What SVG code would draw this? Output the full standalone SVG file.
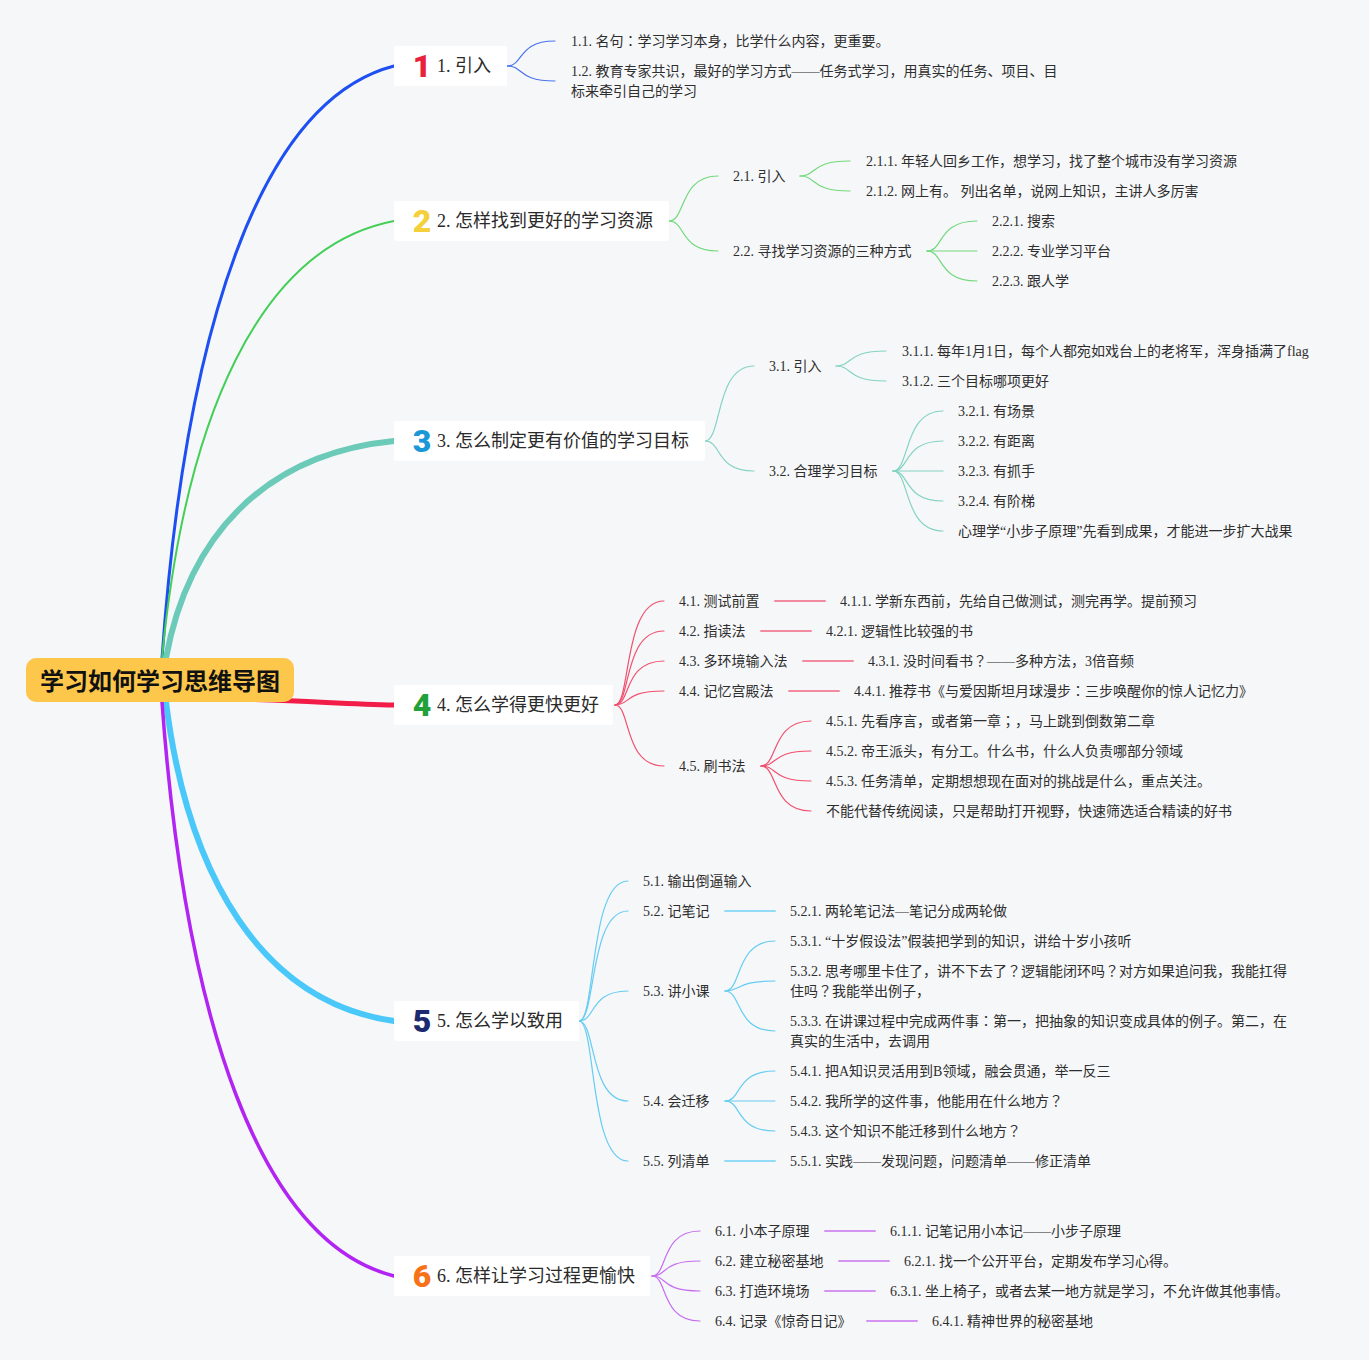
<svg xmlns="http://www.w3.org/2000/svg" width="1369" height="1360" viewBox="0 0 1369 1360">
<style>
.bg{fill:#f6f7f9}
.t{font-family:"Liberation Serif","Noto Sans CJK SC",serif;font-size:14px;fill:#2e2e2e}
.p{font-family:"Noto Sans CJK JP",sans-serif}
.m{font-family:"Liberation Serif","Noto Sans CJK SC",serif;font-size:18px;fill:#2a2a2a}
.root{font-family:"Noto Sans CJK SC",sans-serif;font-size:24px;font-weight:bold;fill:#111}
.num{font-family:"Roboto","Noto Sans",sans-serif;font-size:32px;font-weight:900;text-anchor:middle}
.box{fill:#ffffff}
.c{fill:none;stroke-linecap:round}
.b1{stroke:#4a72ee;stroke-width:1.2}
.b2{stroke:#72d97c;stroke-width:1.2}
.b3{stroke:#84d3c3;stroke-width:1.2}
.b4{stroke:#f0506f;stroke-width:1.2}
.b5{stroke:#66ccf2;stroke-width:1.2}
.b6{stroke:#c66ef0;stroke-width:1.2}
.h4{stroke:#f28ba0;stroke-width:2}
.h5{stroke:#92daf5;stroke-width:2}
.h6{stroke:#d694f2;stroke-width:2}
</style>
<rect class="bg" x="0" y="0" width="1369" height="1360"/>
<g id="connectors">
  <path class="c" stroke="#1d4ff2" stroke-width="3" d="M162,658 C185,332 259,101 394,66"/>
  <path class="c" stroke="#43cf57" stroke-width="2" d="M162,658 C185,418 259,247 394,221"/>
  <path class="c" stroke="#6ccab9" stroke-width="6" d="M166,658 C188,539 262,454 394,441"/>
  <path class="c" stroke="#f21c48" stroke-width="5" d="M200,698 C300,700 340,704 394,705"/>
  <path class="c" stroke="#4bc8fa" stroke-width="6" d="M166,702 C188,877 262,1002 394,1021"/>
  <path class="c" stroke="#b224f2" stroke-width="3.5" d="M162,702 C185,1018 259,1242 394,1276"/>
  <path class="c b1" d="M507,66 C524,66 517,41 555,41"/>
  <path class="c b1" d="M507,66 C524,66 517,81 555,81"/>
  <path class="c b2" d="M669,221 C686,221 679,176 718,176"/>
  <path class="c b2" d="M669,221 C686,221 679,251 718,251"/>
  <path class="c b2" d="M800,176 C817,176 810,161 850,161"/>
  <path class="c b2" d="M800,176 C817,176 810,191 850,191"/>
  <path class="c b2" d="M927,251 C944,251 937,221 977,221"/>
  <path class="c b2" d="M927,251 C944,251 937,251 977,251"/>
  <path class="c b2" d="M927,251 C944,251 937,281 977,281"/>
  <path class="c b3" d="M705,441 C722,441 715,366 754,366"/>
  <path class="c b3" d="M705,441 C722,441 715,471 754,471"/>
  <path class="c b3" d="M836,366 C853,366 846,351 886,351"/>
  <path class="c b3" d="M836,366 C853,366 846,381 886,381"/>
  <path class="c b3" d="M893,471 C910,471 903,411 943,411"/>
  <path class="c b3" d="M893,471 C910,471 903,441 943,441"/>
  <path class="c b3" d="M893,471 C910,471 903,471 943,471"/>
  <path class="c b3" d="M893,471 C910,471 903,501 943,501"/>
  <path class="c b3" d="M893,471 C910,471 903,531 943,531"/>
  <path class="c b4" d="M615,705 C631,705 623,601 664,601"/>
  <path class="c b4" d="M615,705 C631,705 623,631 664,631"/>
  <path class="c b4" d="M615,705 C631,705 623,661 664,661"/>
  <path class="c b4" d="M615,705 C631,705 623,691 664,691"/>
  <path class="c b4" d="M615,705 C631,705 623,766 664,766"/>
  <path class="c b4" d="M761,766 C778,766 771,721 811,721"/>
  <path class="c b4" d="M761,766 C778,766 771,751 811,751"/>
  <path class="c b4" d="M761,766 C778,766 771,781 811,781"/>
  <path class="c b4" d="M761,766 C778,766 771,811 811,811"/>
  <path class="c h4" d="M775,601 L825,601"/>
  <path class="c h4" d="M761,631 L811,631"/>
  <path class="c h4" d="M803,661 L853,661"/>
  <path class="c h4" d="M789,691 L839,691"/>
  <path class="c b5" d="M579,1021 C596,1021 589,881 628,881"/>
  <path class="c b5" d="M579,1021 C596,1021 589,911 628,911"/>
  <path class="c b5" d="M579,1021 C596,1021 589,991 628,991"/>
  <path class="c b5" d="M579,1021 C596,1021 589,1101 628,1101"/>
  <path class="c b5" d="M579,1021 C596,1021 589,1161 628,1161"/>
  <path class="c b5" d="M725,991 C742,991 735,941 775,941"/>
  <path class="c b5" d="M725,991 C742,991 735,981 775,981"/>
  <path class="c b5" d="M725,991 C742,991 735,1031 775,1031"/>
  <path class="c b5" d="M725,1101 C742,1101 735,1071 775,1071"/>
  <path class="c b5" d="M725,1101 C742,1101 735,1101 775,1101"/>
  <path class="c b5" d="M725,1101 C742,1101 735,1131 775,1131"/>
  <path class="c h5" d="M725,911 L775,911"/>
  <path class="c h5" d="M725,1161 L775,1161"/>
  <path class="c b6" d="M652,1276 C668,1276 660,1231 700,1231"/>
  <path class="c b6" d="M652,1276 C668,1276 660,1261 700,1261"/>
  <path class="c b6" d="M652,1276 C668,1276 660,1291 700,1291"/>
  <path class="c b6" d="M652,1276 C668,1276 660,1321 700,1321"/>
  <path class="c h6" d="M825,1231 L875,1231"/>
  <path class="c h6" d="M839,1261 L889,1261"/>
  <path class="c h6" d="M825,1291 L875,1291"/>
  <path class="c h6" d="M867,1321 L917,1321"/>
</g>
<g id="root">
  <rect x="26" y="658" width="268" height="44" rx="10" fill="#fdc74b"/>
  <text class="root" x="160" y="690" text-anchor="middle">学习如何学习思维导图</text>
</g>
<g id="n1">
  <rect class="box" x="394" y="46" width="113" height="40" rx="2"/>
  <text class="num" x="422" y="77" fill="#e8213c">1</text>
  <text class="m" x="437" y="72">1. 引入</text>
</g>
<g id="n1-1"><text class="t" x="571" y="46">1.1. 名句<tspan class="p">：</tspan>学习学习本身，比学什么内容，更重要。</text></g>
<g id="n1-2"><text class="t" x="571" y="76">1.2. 教育专家共识，最好的学习方式——任务式学习，用真实的任务、项目、目</text><text class="t" x="571" y="96">标来牵引自己的学习</text></g>
<g id="n2">
  <rect class="box" x="394" y="201" width="275" height="40" rx="2"/>
  <text class="num" x="422" y="232" fill="#f4d03c">2</text>
  <text class="m" x="437" y="227">2. 怎样找到更好的学习资源</text>
</g>
<g id="n2-1"><text class="t" x="733" y="181">2.1. 引入</text></g>
<g id="n2-1-1"><text class="t" x="866" y="166">2.1.1. 年轻人回乡工作，想学习，找了整个城市没有学习资源</text></g>
<g id="n2-1-2"><text class="t" x="866" y="196">2.1.2. 网上有。 列出名单，说网上知识，主讲人多厉害</text></g>
<g id="n2-2"><text class="t" x="733" y="256">2.2. 寻找学习资源的三种方式</text></g>
<g id="n2-2-1"><text class="t" x="992" y="226">2.2.1. 搜索</text></g>
<g id="n2-2-2"><text class="t" x="992" y="256">2.2.2. 专业学习平台</text></g>
<g id="n2-2-3"><text class="t" x="992" y="286">2.2.3. 跟人学</text></g>
<g id="n3">
  <rect class="box" x="394" y="421" width="311" height="40" rx="2"/>
  <text class="num" x="422" y="452" fill="#1b98d8">3</text>
  <text class="m" x="437" y="447">3. 怎么制定更有价值的学习目标</text>
</g>
<g id="n3-1"><text class="t" x="769" y="371">3.1. 引入</text></g>
<g id="n3-1-1"><text class="t" x="902" y="356">3.1.1. 每年1月1日，每个人都宛如戏台上的老将军，浑身插满了flag</text></g>
<g id="n3-1-2"><text class="t" x="902" y="386">3.1.2. 三个目标哪项更好</text></g>
<g id="n3-2"><text class="t" x="769" y="476">3.2. 合理学习目标</text></g>
<g id="n3-2-1"><text class="t" x="958" y="416">3.2.1. 有场景</text></g>
<g id="n3-2-2"><text class="t" x="958" y="446">3.2.2. 有距离</text></g>
<g id="n3-2-3"><text class="t" x="958" y="476">3.2.3. 有抓手</text></g>
<g id="n3-2-4"><text class="t" x="958" y="506">3.2.4. 有阶梯</text></g>
<g id="n3-2-5"><text class="t" x="958" y="536">心理学“小步子原理”先看到成果，才能进一步扩大战果</text></g>
<g id="n4">
  <rect class="box" x="394" y="685" width="219" height="40" rx="2"/>
  <text class="num" x="422" y="716" fill="#22a03a">4</text>
  <text class="m" x="437" y="711">4. 怎么学得更快更好</text>
</g>
<g id="n4-1"><text class="t" x="679" y="606">4.1. 测试前置</text></g>
<g id="n4-1-1"><text class="t" x="840" y="606">4.1.1. 学新东西前，先给自己做测试，测完再学。提前预习</text></g>
<g id="n4-2"><text class="t" x="679" y="636">4.2. 指读法</text></g>
<g id="n4-2-1"><text class="t" x="826" y="636">4.2.1. 逻辑性比较强的书</text></g>
<g id="n4-3"><text class="t" x="679" y="666">4.3. 多环境输入法</text></g>
<g id="n4-3-1"><text class="t" x="868" y="666">4.3.1. 没时间看书<tspan class="p">？</tspan>——多种方法，3倍音频</text></g>
<g id="n4-4"><text class="t" x="679" y="696">4.4. 记忆宫殿法</text></g>
<g id="n4-4-1"><text class="t" x="854" y="696">4.4.1. 推荐书《与爱因斯坦月球漫步<tspan class="p">：</tspan>三步唤醒你的惊人记忆力》</text></g>
<g id="n4-5"><text class="t" x="679" y="771">4.5. 刷书法</text></g>
<g id="n4-5-1"><text class="t" x="826" y="726">4.5.1. 先看序言，或者第一章<tspan class="p">；</tspan>，马上跳到倒数第二章</text></g>
<g id="n4-5-2"><text class="t" x="826" y="756">4.5.2. 帝王派头，有分工。什么书，什么人负责哪部分领域</text></g>
<g id="n4-5-3"><text class="t" x="826" y="786">4.5.3. 任务清单，定期想想现在面对的挑战是什么，重点关注。</text></g>
<g id="n4-5-4"><text class="t" x="826" y="816">不能代替传统阅读，只是帮助打开视野，快速筛选适合精读的好书</text></g>
<g id="n5">
  <rect class="box" x="394" y="1001" width="185" height="40" rx="2"/>
  <text class="num" x="422" y="1032" fill="#1e2a70">5</text>
  <text class="m" x="437" y="1027">5. 怎么学以致用</text>
</g>
<g id="n5-1"><text class="t" x="643" y="886">5.1. 输出倒逼输入</text></g>
<g id="n5-2"><text class="t" x="643" y="916">5.2. 记笔记</text></g>
<g id="n5-2-1"><text class="t" x="790" y="916">5.2.1. 两轮笔记法—笔记分成两轮做</text></g>
<g id="n5-3"><text class="t" x="643" y="996">5.3. 讲小课</text></g>
<g id="n5-3-1"><text class="t" x="790" y="946">5.3.1. “十岁假设法”假装把学到的知识，讲给十岁小孩听</text></g>
<g id="n5-3-2"><text class="t" x="790" y="976">5.3.2. 思考哪里卡住了，讲不下去了<tspan class="p">？</tspan>逻辑能闭环吗<tspan class="p">？</tspan>对方如果追问我，我能扛得</text><text class="t" x="790" y="996">住吗<tspan class="p">？</tspan>我能举出例子，</text></g>
<g id="n5-3-3"><text class="t" x="790" y="1026">5.3.3. 在讲课过程中完成两件事<tspan class="p">：</tspan>第一，把抽象的知识变成具体的例子。第二，在</text><text class="t" x="790" y="1046">真实的生活中，去调用</text></g>
<g id="n5-4"><text class="t" x="643" y="1106">5.4. 会迁移</text></g>
<g id="n5-4-1"><text class="t" x="790" y="1076">5.4.1. 把A知识灵活用到B领域，融会贯通，举一反三</text></g>
<g id="n5-4-2"><text class="t" x="790" y="1106">5.4.2. 我所学的这件事，他能用在什么地方<tspan class="p">？</tspan></text></g>
<g id="n5-4-3"><text class="t" x="790" y="1136">5.4.3. 这个知识不能迁移到什么地方<tspan class="p">？</tspan></text></g>
<g id="n5-5"><text class="t" x="643" y="1166">5.5. 列清单</text></g>
<g id="n5-5-1"><text class="t" x="790" y="1166">5.5.1. 实践——发现问题，问题清单——修正清单</text></g>
<g id="n6">
  <rect class="box" x="394" y="1256" width="256" height="40" rx="2"/>
  <text class="num" x="422" y="1287" fill="#f7731a">6</text>
  <text class="m" x="437" y="1282">6. 怎样让学习过程更愉快</text>
</g>
<g id="n6-1"><text class="t" x="715" y="1236">6.1. 小本子原理</text></g>
<g id="n6-1-1"><text class="t" x="890" y="1236">6.1.1. 记笔记用小本记——小步子原理</text></g>
<g id="n6-2"><text class="t" x="715" y="1266">6.2. 建立秘密基地</text></g>
<g id="n6-2-1"><text class="t" x="904" y="1266">6.2.1. 找一个公开平台，定期发布学习心得。</text></g>
<g id="n6-3"><text class="t" x="715" y="1296">6.3. 打造环境场</text></g>
<g id="n6-3-1"><text class="t" x="890" y="1296">6.3.1. 坐上椅子，或者去某一地方就是学习，不允许做其他事情。</text></g>
<g id="n6-4"><text class="t" x="715" y="1326">6.4. 记录《惊奇日记》</text></g>
<g id="n6-4-1"><text class="t" x="932" y="1326">6.4.1. 精神世界的秘密基地</text></g>
</svg>
